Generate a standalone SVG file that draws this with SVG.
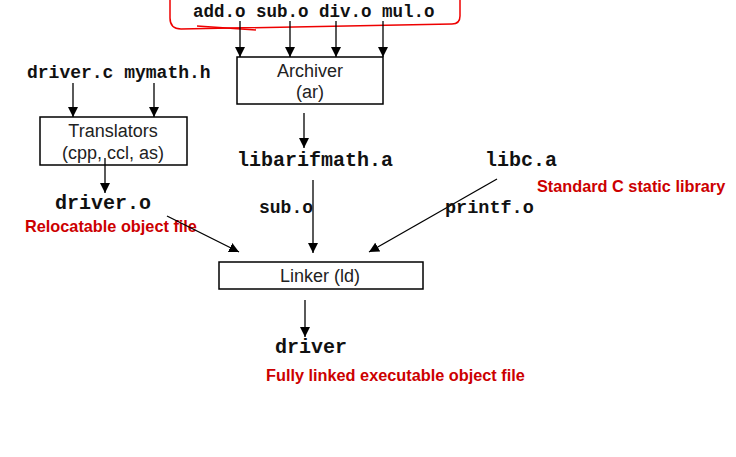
<svg xmlns="http://www.w3.org/2000/svg" width="736" height="457" viewBox="0 0 736 457">
<defs>
<marker id="ah" viewBox="0 0 10 10" refX="10" refY="5" markerWidth="10" markerHeight="10" markerUnits="userSpaceOnUse" orient="auto">
<path d="M0,0 L10,5 L0,10 Z" fill="#000"/>
</marker>
</defs>
<style>
.box{fill:#fff;stroke:#000;stroke-width:1.5}
.lbl{font-family:"Liberation Sans",Arial,sans-serif;font-size:18px;fill:#222;text-anchor:middle}
.mono{font-family:"Liberation Mono","Courier New",monospace;font-weight:bold;fill:#111}
.red{font-family:"Liberation Sans",Arial,sans-serif;font-weight:bold;font-size:16.3px;fill:#cc0000}
.edge{stroke:#000;stroke-width:1.3;fill:none;marker-end:url(#ah)}
</style>
<rect width="736" height="457" fill="#fff"/>
<g id="red-group">
<path d="M170,-5 L170,18 Q170,29 181,29 L452,24 Q460,24 460,16 L460,-5" fill="none" stroke="#e00" stroke-width="1.5"/>
<line x1="197" y1="26" x2="256" y2="30" stroke="#e00" stroke-width="1.5"/>
<text class="mono" x="193" y="17" font-size="17.5">add.o sub.o div.o mul.o</text>
</g>
<g id="archiver">
<rect class="box" x="237" y="57" width="146" height="47"/>
<text class="lbl" x="310" y="77">Archiver</text>
<text class="lbl" x="310" y="98">(ar)</text>
</g>
<g id="sources">
<text class="mono" x="27" y="78" font-size="18">driver.c mymath.h</text>
</g>
<g id="translators">
<rect class="box" x="40" y="117" width="147" height="48"/>
<text class="lbl" x="113" y="137">Translators</text>
<text class="lbl" x="113" y="159">(cpp, ccl, as)</text>
</g>
<g id="drivero">
<text class="mono" x="55" y="209" font-size="20">driver.o</text>
<text class="red" x="25" y="232">Relocatable object file</text>
</g>
<g id="libarifmath">
<text class="mono" x="237" y="166" font-size="20">libarifmath.a</text>
</g>
<g id="libc">
<text class="mono" x="485" y="166" font-size="20">libc.a</text>
<text class="red" x="537" y="192">Standard C static library</text>
</g>
<g id="linker">
<rect class="box" x="219" y="262" width="204" height="27"/>
<text class="lbl" x="320" y="282">Linker (ld)</text>
</g>
<g id="driver">
<text class="mono" x="275" y="353" font-size="20">driver</text>
<text class="red" x="266" y="381">Fully linked executable object file</text>
</g>
<g id="connectors">
<line class="edge" x1="240" y1="21" x2="240" y2="57"/>
<line class="edge" x1="290" y1="21" x2="290" y2="57"/>
<line class="edge" x1="336" y1="21" x2="336" y2="57"/>
<line class="edge" x1="383" y1="21" x2="383" y2="57"/>
<line class="edge" x1="73" y1="83" x2="73" y2="117"/>
<line class="edge" x1="154" y1="83" x2="154" y2="117"/>
<line class="edge" x1="105" y1="158" x2="105" y2="193"/>
<line class="edge" x1="304" y1="113" x2="304" y2="148"/>
<line class="edge" x1="313" y1="180" x2="313" y2="253"/>
<line class="edge" x1="167" y1="216" x2="239" y2="252"/>
<line class="edge" x1="497" y1="179" x2="369" y2="252"/>
<line class="edge" x1="305" y1="300" x2="305" y2="337"/>
<text class="mono" x="259" y="213" font-size="18">sub.o</text>
<text class="mono" x="445" y="213" font-size="18.5">printf.o</text>
</g>
</svg>
